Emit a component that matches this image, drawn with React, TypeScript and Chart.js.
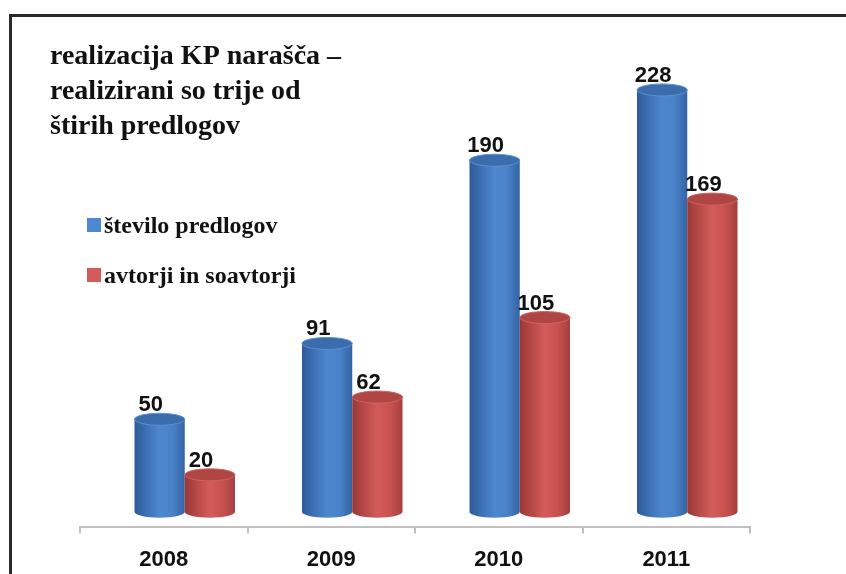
import React, { useEffect, useRef } from "react";
import { Chart, registerables } from "chart.js";

Chart.register(...registerables);

const categories = ["2008", "2009", "2010", "2011"];
const proposals = [50, 91, 190, 228];
const authors = [20, 62, 105, 169];
const seriesNames = ["število predlogov", "avtorji in soavtorji"];
const titleLines = ["realizacija KP narašča –", "realizirani so trije od", "štirih predlogov"];

const PALETTE = [
  { stops: ["#2d5b97", "#3d72b6", "#4d87cf", "#4a82c8", "#3463a3"], top: "#3b6cab", rim: "#5b90d2" },
  { stops: ["#983836", "#b84a48", "#d35c5a", "#c9524f", "#a3403e"], top: "#b04644", rim: "#cf6260" },
];

const SHIFT = 21;
const RY = 6;

const decorPlugin = {
  id: "decor",
  beforeDraw(chart: any) {
    const ctx = chart.ctx;
    ctx.save();
    ctx.strokeStyle = "#2a2a2a";
    ctx.lineWidth = 3;
    ctx.beginPath();
    ctx.moveTo(10.5, 574);
    ctx.lineTo(10.5, 15.5);
    ctx.lineTo(846, 15.5);
    ctx.stroke();
    // title
    ctx.fillStyle = "#111";
    ctx.font = "bold 28px 'Liberation Serif', 'DejaVu Serif', serif";
    ctx.textBaseline = "alphabetic";
    ctx.textAlign = "left";
    titleLines.forEach((t, i) => ctx.fillText(t, 50, 64 + i * 35));
    // legend
    ctx.font = "bold 24px 'Liberation Serif', 'DejaVu Serif', serif";
    chart.data.datasets.forEach((ds: any, i: number) => {
      const y = 218 + i * 50;
      ctx.fillStyle = PALETTE[i].stops[2];
      ctx.fillRect(87, y, 14, 14);
      ctx.fillStyle = "#111";
      ctx.fillText(ds.label, 104, y + 15);
    });
    ctx.restore();
  },
  afterDatasetsDraw(chart: any) {
    const ctx = chart.ctx;
    ctx.save();
    chart.data.datasets.forEach((ds: any, di: number) => {
      const meta = chart.getDatasetMeta(di);
      const pal = PALETTE[di];
      meta.data.forEach((el: any, idx: number) => {
        const p = el.getProps(["x", "y", "base", "width"], true);
        const cx = p.x + SHIFT;
        const w = p.width;
        const rx = w / 2;
        const left = cx - rx;
        const top = p.y;
        const base = p.base;
        const g = ctx.createLinearGradient(left, 0, left + w, 0);
        pal.stops.forEach((c: string, k: number) => g.addColorStop(k / (pal.stops.length - 1), c));
        ctx.fillStyle = g;
        ctx.beginPath();
        ctx.moveTo(left, top);
        ctx.lineTo(left, base);
        ctx.ellipse(cx, base, rx, RY, 0, Math.PI, 0, true);
        ctx.lineTo(left + w, top);
        ctx.closePath();
        ctx.fill();
        ctx.beginPath();
        ctx.ellipse(cx, top, rx, RY, 0, 0, Math.PI * 2);
        ctx.fillStyle = pal.top;
        ctx.fill();
        ctx.strokeStyle = pal.rim;
        ctx.lineWidth = 1;
        ctx.stroke();
        // value label
        ctx.fillStyle = "#111";
        ctx.font = "bold 22px 'Liberation Sans', Arial, sans-serif";
        ctx.textAlign = "center";
        ctx.textBaseline = "alphabetic";
        ctx.fillText(String(ds.data[idx]), cx - 9, top - RY - 2);
      });
    });
    ctx.restore();
  },
};

export default function App() {
  const ref = useRef<HTMLCanvasElement>(null);
  useEffect(() => {
    if (!ref.current) return;
    const chart = new Chart(ref.current, {
      type: "bar",
      data: {
        labels: categories,
        datasets: [
          { label: seriesNames[0], data: proposals, backgroundColor: "rgba(0,0,0,0)" },
          { label: seriesNames[1], data: authors, backgroundColor: "rgba(0,0,0,0)" },
        ],
      },
      options: {
        responsive: false,
        animation: false,
        devicePixelRatio: 1,
        layout: { padding: { left: 80, right: 96, top: 40, bottom: -12 } },
        datasets: { bar: { categoryPercentage: 0.6, barPercentage: 1 } },
        plugins: { legend: { display: false }, title: { display: false }, tooltip: { enabled: false } },
        scales: {
          x: {
            grid: { display: true, drawOnChartArea: false, drawTicks: true, tickLength: 7, color: "#c0c0c0", lineWidth: 2, offset: true },
            border: { display: true, color: "#c0c0c0", width: 2 },
            ticks: { color: "#111", padding: 13, font: { family: "'Liberation Sans', Arial, sans-serif", size: 22, weight: "bold" } },
          },
          y: { display: false, min: -8, max: 255 },
        },
      },
      plugins: [decorPlugin],
    } as any);
    return () => chart.destroy();
  }, []);
  return (
    <canvas
      ref={ref}
      width={846}
      height={574}
      style={{ position: "fixed", left: 0, top: 0, width: 846, height: 574, background: "#fff" }}
    />
  );
}
